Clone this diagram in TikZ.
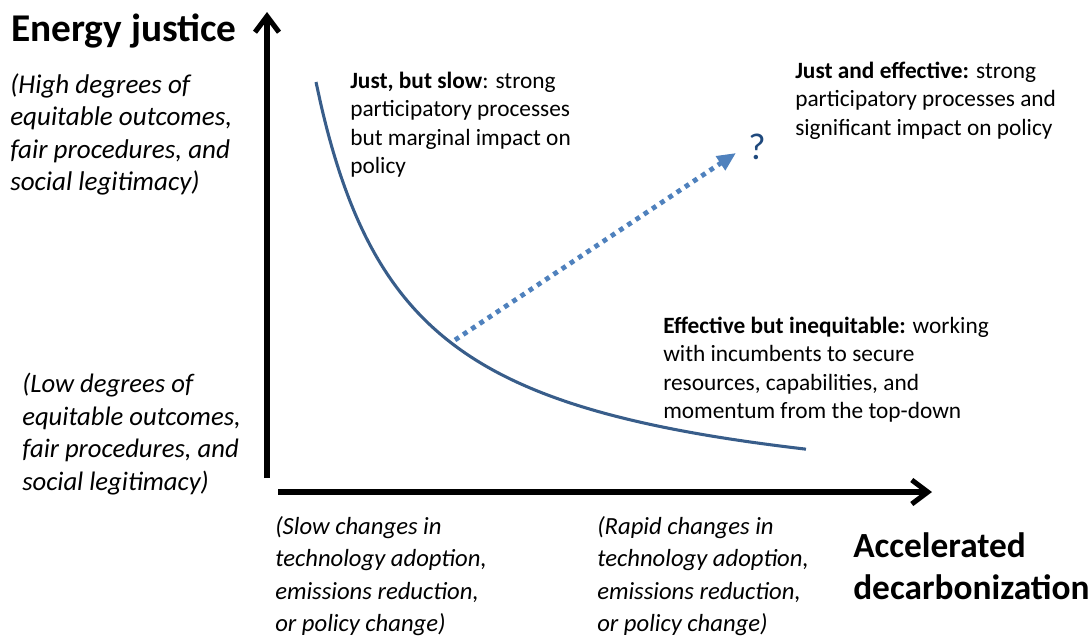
\documentclass[tikz,border=0pt]{standalone}
\usepackage{fontspec}
\setmainfont{Carlito}
\usepackage{tikz}
\usetikzlibrary{arrows.meta, positioning, calc}
\definecolor{curveblue}{RGB}{56,93,138}
\definecolor{pathblue}{RGB}{79,129,189}
\definecolor{markblue}{RGB}{31,73,125}
\tikzset{
    axislabel/.style={anchor=north west, inner sep=0pt, align=left, font=\fontsize{26.5}{31.5}\selectfont\bfseries},
    rangenote/.style={anchor=north west, inner sep=0pt, align=left, font=\fontsize{18.5}{24.4}\selectfont\itshape},
    quadrant/.style={anchor=north west, inner sep=0pt, align=left, font=\fontsize{17.5}{21.2}\selectfont},
    axis/.style={line width=3.8pt, -{Straight Barb[length=12pt, width=18pt, line width=3.8pt]}},
    tradeoff/.style={line width=2.3pt, color=curveblue},
    pathway/.style={line width=3.6pt, color=pathblue, dash pattern=on 3.6pt off 3.8pt,
        -{Triangle[length=14pt, width=12pt]}}
}

\begin{document}
\begin{tikzpicture}[x=0.75pt, y=-0.75pt]
    \useasboundingbox (0,0) rectangle (1089,636);

    % axes
    \coordinate (origin) at (267,478);
    \coordinate (ytop) at (267,12);
    \coordinate (xstart) at (278,492);
    \coordinate (xend) at (932,492);
    \draw [axis] (origin) -- (ytop);
    \draw [axis] (xstart) -- (xend);

    % axis titles
    \node (ytitle) [axislabel, font=\fontsize{29.5}{32}\selectfont\bfseries] at (11,14) {Energy justice};
    \node (xtitle) [axislabel] at (853,532) {Accelerated\\decarbonization};

    % ends of each axis
    \node (yhigh) [rangenote, font=\fontsize{20.3}{24.4}\selectfont\itshape] at (10,73) {(High degrees of\\equitable outcomes,\\fair procedures, and\\social legitimacy)};
    \node (ylow) [rangenote, font=\fontsize{20}{24.4}\selectfont\itshape] at (22,373) {(Low degrees of\\equitable outcomes,\\fair procedures, and\\social legitimacy)};
    \node (xslow) [rangenote] at (275,516) {(Slow changes in\\technology adoption,\\emissions reduction,\\or policy change)};
    \node (xrapid) [rangenote] at (597,516) {(Rapid changes in\\technology adoption,\\emissions reduction,\\or policy change)};

    % trade-off curve
    \draw [tradeoff] plot[domain=316:806, samples=90, smooth] (\x, {516.6 - 100*(391.16/(\x - 226))});

    % the three regions
    \node (justslow) [quadrant] at (350,72) {\textbf{Just, but slow}: strong\\participatory processes\\but marginal impact on\\policy};
    \node (justeff) [quadrant] at (795,62) {\textbf{Just and effective:} strong\\participatory processes and\\significant impact on policy};
    \node (effineq) [quadrant] at (663,317) {\textbf{Effective but inequitable:} working\\with incumbents to secure\\resources, capabilities, and\\momentum from the top-down};

    % pathway towards the open question
    \node (question) [inner sep=0pt, text=markblue, font=\fontsize{28}{30}\selectfont] at (757,147) {?};
    \coordinate (pathstart) at (455,340);
    \coordinate (pathend) at (736,153);
    \draw [pathway] (pathstart) -- (pathend);
\end{tikzpicture}
\end{document}
